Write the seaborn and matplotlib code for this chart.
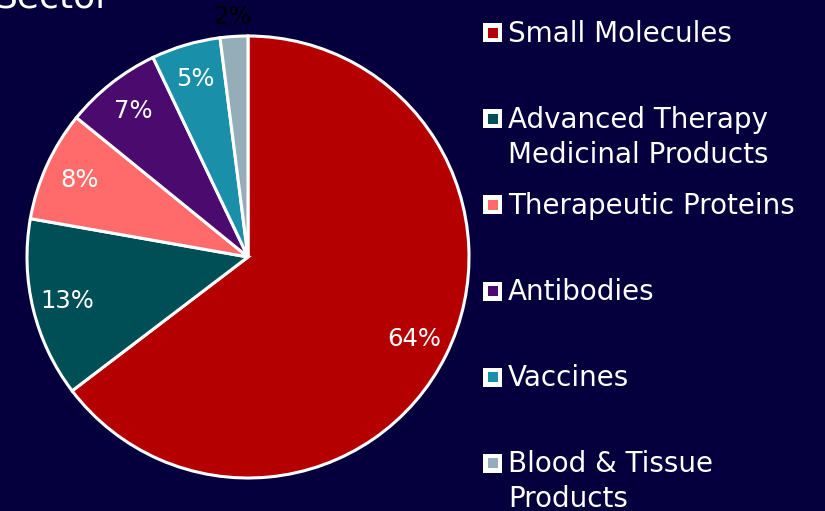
import matplotlib.pyplot as plt
import numpy as np
import seaborn as sns
from matplotlib.patches import Rectangle

# share of pipeline by sector (%)
sectors = [
    "Small Molecules",
    "Advanced Therapy\nMedicinal Products",
    "Therapeutic Proteins",
    "Antibodies",
    "Vaccines",
    "Blood & Tissue\nProducts",
]
shares = [64, 13, 8, 7, 5, 2]
pct_labels = ["64%", "13%", "8%", "7%", "5%", "2%"]
colors = ["#b40000", "#004f56", "#ff6b6b", "#4b0b6e", "#198fa9", "#95adb9"]

BG = "#05003d"
W, H = 825, 511

sns.set_theme(style="white")
plt.rcParams["font.family"] = "DejaVu Sans"

fig = plt.figure(figsize=(W / 100, H / 100), dpi=100, facecolor=BG)
cx, cy, r = 248, H - 257, 221
ax = fig.add_axes([(cx - r) / W, (cy - r) / H, 2 * r / W, 2 * r / H])
ax.set_facecolor(BG)

wedges, _ = ax.pie(
    shares,
    colors=colors,
    startangle=90,
    counterclock=False,
    wedgeprops=dict(edgecolor="white", linewidth=2.2, clip_on=False),
)
ax.set_xlim(-1, 1)
ax.set_ylim(-1, 1)

for i, (w, lab) in enumerate(zip(wedges, pct_labels)):
    mid = np.deg2rad((w.theta1 + w.theta2) / 2)
    small = i == len(wedges) - 1
    dist = 1.09 if small else 0.84
    ax.text(dist * np.cos(mid), dist * np.sin(mid), lab,
            ha="center", va="center", fontsize=17.5,
            color="black" if small else "white", clip_on=False)

# legend, drawn by hand so every entry keeps the same spacing
for k, (name, col) in enumerate(zip(sectors, colors)):
    mid_y = 33 + 86 * k
    ox, osz, isz = 483, 19, 10
    fig.add_artist(Rectangle((ox / W, (H - mid_y - osz / 2) / H), osz / W, osz / H,
                             transform=fig.transFigure, facecolor="white", edgecolor="none"))
    fig.add_artist(Rectangle(((ox + (osz - isz) / 2) / W, (H - mid_y - isz / 2) / H), isz / W, isz / H,
                             transform=fig.transFigure, facecolor=col, edgecolor="none"))
    fig.text(508 / W, (H - mid_y + 13) / H, name, color="white", fontsize=20,
             ha="left", va="top", linespacing=1.3)

fig.text(-5 / W, (H - 8) / H, "Sector", color="white", fontsize=26,
         ha="left", va="baseline")

fig.savefig("out.png", dpi=100, facecolor=BG)
